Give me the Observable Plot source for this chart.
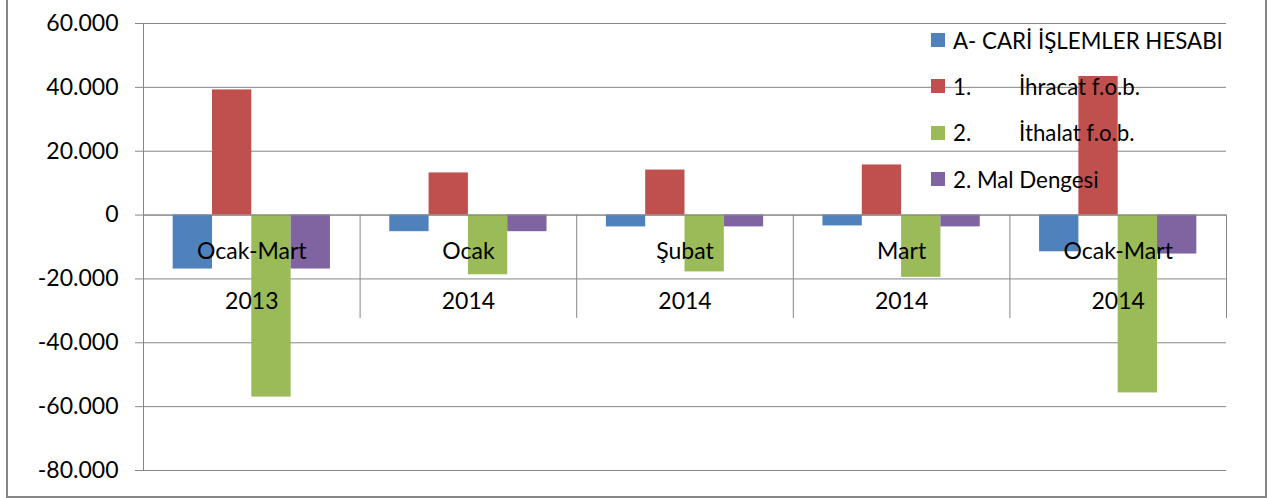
<!DOCTYPE html>
<html>
<head>
<meta charset="utf-8">
<script src="https://cdn.jsdelivr.net/npm/d3@7"></script>
<script src="https://cdn.jsdelivr.net/npm/@observablehq/plot@0.6"></script>
<style>
  body { margin: 0; background: #fff; }
  #wrap { position: relative; width: 1267px; height: 498px; overflow: hidden; font-family: Lato, sans-serif; color: #000; }
  #wrap svg { position: absolute; left: 0; top: 0; }
  #border { position: absolute; left: 6px; top: -3px; width: 1261px; height: 501px; border: 2px solid #868686; box-sizing: border-box; pointer-events: none; }
  #legend { position: absolute; left: 931px; top: 17px; white-space: nowrap; font-size: 22.3px; }
  .row { display: flex; align-items: center; height: 46.3px; }
  .sw { width: 14px; height: 14px; flex: none; margin-right: 8px; }
  .lab { white-space: pre; tab-size: 66px; -moz-tab-size: 66px; }
</style>
</head>
<body>
<div id="wrap"><div id="border"></div><div id="legend"></div></div>
<script>
// ---- data ----
const categories = ["Ocak-Mart", "Ocak", "Şubat", "Mart", "Ocak-Mart"];
const years = ["2013", "2014", "2014", "2014", "2014"];
const seriesNames = ["A- CARİ İŞLEMLER HESABI", "1.\tİhracat f.o.b.", "2.\tİthalat f.o.b.", "2. Mal Dengesi"];
const cariIslemler = [-16900, -5200, -3700, -3400, -11500];
const ihracat = [39200, 13200, 14100, 15700, 43400];
const ithalat = [-57000, -18700, -17800, -19500, -55700];
const malDengesi = [-16900, -5200, -3700, -3700, -12200];
const yTicks = [-80000, -60000, -40000, -20000, 0, 20000, 40000, 60000];
const colors = ["#4F81BD", "#C0504D", "#9BBB59", "#8064A2"];

// ---- layout helpers ----
const seriesValues = [cariIslemler, ihracat, ithalat, malDengesi];
const barWidth = 0.1815;               // fraction of a category slot
const groupPad = (1 - 4 * barWidth) / 2;
const labelTableDepth = -32400;        // extent of the category label table below zero

const rows = [];
categories.forEach((c, i) => {
  seriesValues.forEach((vals, j) => {
    rows.push({ i, series: seriesNames[j], value: vals[i],
                x1: i + groupPad + j * barWidth, x2: i + groupPad + (j + 1) * barWidth });
  });
});
const catRows = categories.map((c, i) => ({ c, y: years[i], pos: i + 0.5 }));

const fmt = d3.formatLocale({ decimal: ",", thousands: ".", grouping: [3], currency: ["", ""], minus: "-" }).format(",");
const gray = "#868686";

const chart = Plot.plot({
  width: 1267, height: 498,
  marginLeft: 143, marginRight: 41, marginTop: 23, marginBottom: 28,
  style: { fontFamily: "Lato, sans-serif", fontSize: "23px", color: "#000", background: "transparent" },
  x: { domain: [0, categories.length], axis: null },
  y: { domain: [-80000, 60000], axis: null },
  color: { domain: seriesNames, range: colors },
  marks: [
    Plot.gridY(yTicks, { stroke: gray, strokeOpacity: 1 }),
    Plot.axisY(yTicks, { tickFormat: fmt, tickSize: 8, tickPadding: 17, stroke: gray, fill: "#000", label: null }),
    Plot.rect(rows, { x1: "x1", x2: "x2", y1: 0, y2: "value", fill: "series" }),
    Plot.ruleY([0], { stroke: gray }),
    Plot.ruleX([0], { stroke: gray }),
    Plot.ruleX(d3.range(1, categories.length + 1), { y1: 0, y2: labelTableDepth, stroke: gray }),
    Plot.text(catRows, { x: "pos", y: 0, dy: 37, text: "c", fill: "#000" }),
    Plot.text(catRows, { x: "pos", y: 0, dy: 87, text: "y", fill: "#000" })
  ]
});
document.getElementById("wrap").prepend(chart);

// ---- legend ----
const legend = document.getElementById("legend");
seriesNames.forEach((name, j) => {
  const row = document.createElement("div");
  row.className = "row";
  const sw = document.createElement("span");
  sw.className = "sw";
  sw.style.background = colors[j];
  const lab = document.createElement("span");
  lab.className = "lab";
  lab.textContent = name;
  row.append(sw, lab);
  legend.append(row);
});
</script>
</body>
</html>
